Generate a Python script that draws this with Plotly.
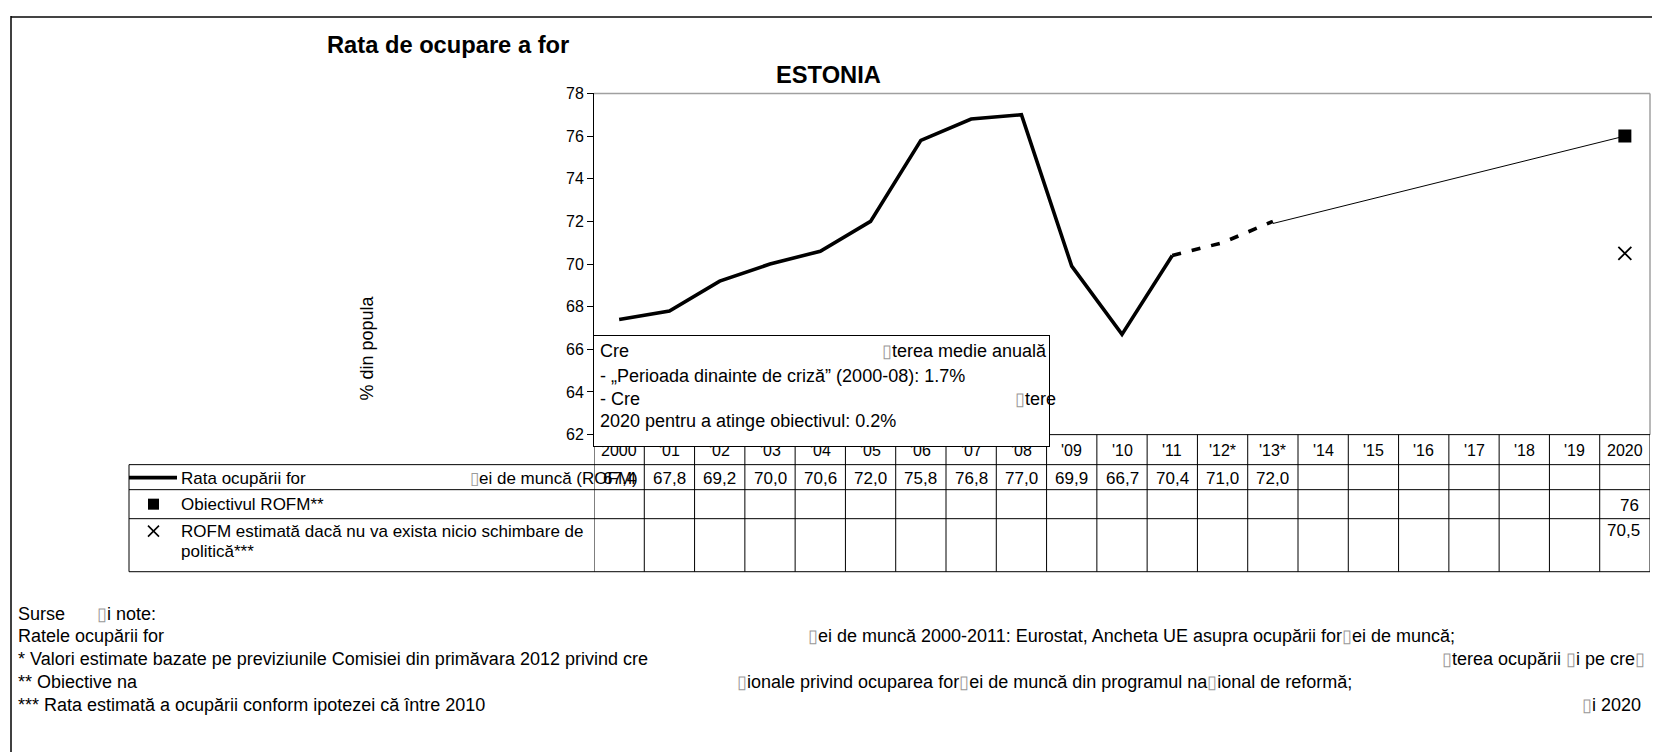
import plotly.graph_objects as go

# The page shows the figure at an offset of (8, 16) px and the photo maps a 770px tall
# viewport onto 752px; positions below are given in the 1660x752 photo space.
OFFX, OFFY = 8, 16
VIEW_H = 770.0
SY = VIEW_H / 752.0
W = 1660 - 2 * OFFX
H = int(VIEW_H) - OFFY - 8

# ---------------- data ----------------
categories = ["2000", "'01", "'02", "'03", "'04", "'05", "'06", "'07", "'08", "'09", "'10",
              "'11", "'12*", "'13*", "'14", "'15", "'16", "'17", "'18", "'19", "2020"]
rate_actual = [67.4, 67.8, 69.2, 70.0, 70.6, 72.0, 75.8, 76.8, 77.0, 69.9, 66.7, 70.4]  # 2000-2011
rate_forecast = [70.4, 71.0, 72.0]                                                        # 2011-2013*
trajectory_values = [71.9, 76.0]                                                          # '13* -> 2020
target_2020 = 76
no_change_2020 = 70.5
y_ticks = [62, 64, 66, 68, 70, 72, 74, 76, 78]

table_rate = rate_actual + rate_forecast[1:]
idx_actual = list(range(len(rate_actual)))
idx_forecast = list(range(len(rate_actual) - 1, len(rate_actual) - 1 + len(rate_forecast)))
idx_traj = [idx_forecast[-1], len(categories) - 1]
idx_2020 = len(categories) - 1

BOX = '<span style="color:#999">▯</span>'
FONT = "Arial, Liberation Sans, sans-serif"


def px(x):
    return (x - OFFX) / W


def py(y):
    return 1 - (y * SY - OFFY) / H


# plot area in photo pixels
PL, PR, PT, PB = 594, 1650, 93, 434
ROWS = [464, 489, 518, 571]
LEG_L = 129

fig = go.Figure()

fig.add_trace(go.Scatter(x=idx_actual, y=rate_actual, mode="lines",
                         line=dict(color="black", width=3.6), showlegend=False))
fig.add_trace(go.Scatter(x=idx_forecast, y=rate_forecast, mode="lines",
                         line=dict(color="black", width=3.6, dash="9px,11px"), showlegend=False))
fig.add_trace(go.Scatter(x=idx_traj, y=trajectory_values, mode="lines",
                         line=dict(color="black", width=1), showlegend=False))
fig.add_trace(go.Scatter(x=[idx_2020], y=[target_2020], mode="markers",
                         marker=dict(symbol="square", size=13, color="black"), showlegend=False))
fig.add_trace(go.Scatter(x=[idx_2020], y=[no_change_2020], mode="markers",
                         marker=dict(symbol="x-thin", size=13, line=dict(color="black", width=1.8)),
                         showlegend=False))

shapes = []
# outer frame (top edge as high as the figure allows)
shapes.append(dict(type="line", xref="paper", yref="paper", x0=px(11), x1=1.01, y0=0.9985, y1=0.9985,
                   line=dict(color="#444", width=2)))
shapes.append(dict(type="line", xref="paper", yref="paper", x0=px(11), x1=px(11), y0=1, y1=-0.05,
                   line=dict(color="black", width=1.5)))
# plot frame top/right (grey)
shapes.append(dict(type="line", xref="paper", yref="paper", x0=px(PL), x1=px(PR), y0=py(PT), y1=py(PT),
                   line=dict(color="#a0a0a0", width=1.5)))
shapes.append(dict(type="line", xref="paper", yref="paper", x0=px(PR), x1=px(PR), y0=py(PT), y1=py(PB),
                   line=dict(color="#a0a0a0", width=1.5)))
# table: category header top line
shapes.append(dict(type="line", xref="paper", yref="paper", x0=px(PL), x1=px(PR), y0=py(PB), y1=py(PB),
                   line=dict(color="black", width=1)))
# horizontal lines
for r in ROWS:
    shapes.append(dict(type="line", xref="paper", yref="paper", x0=px(LEG_L), x1=px(PR), y0=py(r), y1=py(r),
                       line=dict(color="black", width=1)))
# vertical lines between categories
for i in range(len(categories) + 1):
    shapes.append(dict(type="line", xref="x", yref="paper", x0=i - 0.5, x1=i - 0.5, y0=py(PB), y1=py(ROWS[-1]),
                       line=dict(color="black", width=1)))
# left legend column border
shapes.append(dict(type="line", xref="paper", yref="paper", x0=px(LEG_L), x1=px(LEG_L), y0=py(ROWS[0]),
                   y1=py(ROWS[-1]), line=dict(color="black", width=1)))
# legend swatches
shapes.append(dict(type="line", xref="paper", yref="paper", x0=px(129), x1=px(177), y0=py(477), y1=py(477),
                   line=dict(color="black", width=3.6)))
shapes.append(dict(type="rect", xref="paper", yref="paper", x0=px(148), x1=px(159), y0=py(498), y1=py(509),
                   fillcolor="black", line=dict(color="black", width=0)))
shapes.append(dict(type="line", xref="paper", yref="paper", x0=px(148), x1=px(159), y0=py(525), y1=py(536),
                   line=dict(color="black", width=1.6)))
shapes.append(dict(type="line", xref="paper", yref="paper", x0=px(148), x1=px(159), y0=py(536), y1=py(525),
                   line=dict(color="black", width=1.6)))

annotations = []


def ann(text, x, y, size=17, xanchor="left", bold=False, xref="paper", **kw):
    annotations.append(dict(text=("<b>%s</b>" % text) if bold else text, x=x if xref != "paper" else px(x),
                            y=py(y), xref=xref, yref="paper", xanchor=xanchor, yanchor="middle",
                            showarrow=False, font=dict(family=FONT, size=size, color="black"),
                            borderpad=0, **kw))


# titles
ann("Rata de ocupare a for", 448, 45, size=23.7, xanchor="center", bold=True)
ann("ESTONIA", 828, 75, size=23.7, xanchor="center", bold=True)
# y axis title
ann("% din popula", 367, 348, size=18, xanchor="center", textangle=-90)

# category header labels
for i, c in enumerate(categories):
    ann(c, i, 450, size=16, xanchor="center", xref="x")

# legend texts
ann("Rata ocupării for", 180, 478)
ann(BOX + "ei de muncă (ROFM)", 469, 478)
ann("Obiectivul ROFM**", 180, 504)
ann("ROFM estimată dacă nu va exista nicio schimbare de", 180, 531)
ann("politică***", 180, 551)

# table values
for i, v in enumerate(table_rate):
    ann(("%.1f" % v).replace(".", ","), i, 478, size=17, xanchor="center", xref="x")
ann(("%g" % target_2020).replace(".", ","), idx_2020 + 0.3, 505, size=17, xanchor="right", xref="x")
ann(("%.1f" % no_change_2020).replace(".", ","), idx_2020 + 0.32, 530, size=17, xanchor="right", xref="x")

# text box (white, covers header labels)
box_top, box_bottom = 334, 441
annotations.append(dict(text=" ", x=px(593), y=py(box_top), xref="paper", yref="paper", xanchor="left",
                        yanchor="top", showarrow=False, width=455, height=(box_bottom - box_top) * SY,
                        bgcolor="white", bordercolor="black", borderwidth=1, borderpad=0))
BF = 18
ann("Cre", 599, 350, size=BF)
ann(BOX + "terea medie anuală", 881, 350, size=BF)
ann("- „Perioada dinainte de criză” (2000-08): 1.7%", 599, 375, size=BF)
ann("- Cre", 599, 398, size=BF)
ann(BOX + "tere", 1014, 398, size=BF)
ann("2020 pentru a atinge obiectivul: 0.2%", 599, 420, size=BF)

# footnotes
FN = 18
ann("Surse", 17, 613, size=FN)
ann(BOX + "i note:", 96, 613, size=FN)
ann("Ratele ocupării for", 17, 635, size=FN)
ann(BOX + "ei de muncă 2000-2011: Eurostat, Ancheta UE asupra ocupării for" + BOX + "ei de muncă;", 807, 635, size=FN)
ann("* Valori estimate bazate pe previziunile Comisiei din primăvara 2012 privind cre", 17, 658, size=FN)
ann(BOX + "terea ocupării " + BOX + "i pe cre" + BOX, 1646, 658, size=FN, xanchor="right")
ann("** Obiective na", 17, 681, size=FN)
ann(BOX + "ionale privind ocuparea for" + BOX + "ei de muncă din programul na" + BOX + "ional de reformă;", 736, 681,
    size=FN)
ann("*** Rata estimată a ocupării conform ipotezei că între 2010", 17, 704, size=FN)
ann(BOX + "i 2020", 1642, 704, size=FN, xanchor="right")

fig.update_layout(
    width=W, height=H, autosize=False,
    margin=dict(l=0, r=0, t=0, b=0, pad=0),
    paper_bgcolor="white", plot_bgcolor="white",
    showlegend=False,
    font=dict(family=FONT, color="black"),
    xaxis=dict(domain=[px(PL), px(PR)], range=[-0.5, len(categories) - 0.5], visible=False, fixedrange=True),
    yaxis=dict(domain=[py(PB), py(PT)], range=[62, 78], tickvals=y_ticks, ticks="outside", ticklen=6,
               tickcolor="black", showline=True, linecolor="black", linewidth=1, showgrid=False,
               zeroline=False, tickfont=dict(family=FONT, size=16, color="black"), fixedrange=True),
    shapes=shapes,
    annotations=annotations,
)

fig.write_html("out.html")
